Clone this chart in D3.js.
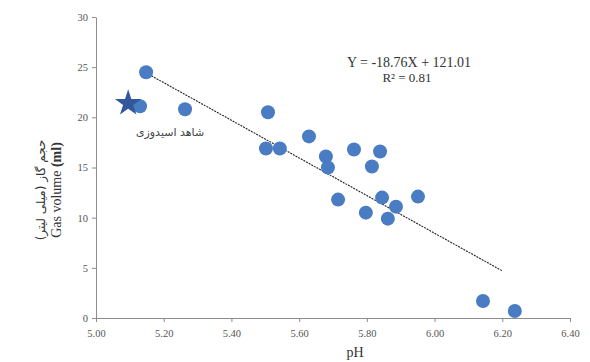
<!DOCTYPE html>
<html>
<head>
    <meta charset="utf-8" />
    <title>Gas volume vs pH</title>
    <style>
        body { margin: 0; background: #fff; }
        text { font-family: "Liberation Serif", serif; }
    </style>
</head>
<body>
<script src="https://d3js.org/d3.v7.min.js"></script>
<script>
    // data
    var phValues  = [5.148, 5.13, 5.263, 5.508, 5.502, 5.543, 5.629, 5.679, 5.685, 5.762,
                     5.839, 5.815, 5.715, 5.797, 5.845, 5.886, 5.862, 5.951, 6.143, 6.237];
    var gasValues = [24.5, 21.1, 20.8, 20.5, 16.9, 16.9, 18.1, 16.1, 15.0, 16.8,
                     16.6, 15.1, 11.8, 10.5, 12.0, 11.1, 9.9, 12.1, 1.7, 0.7];
    var controlPoint = {ph: 5.095, gas: 21.4, label: "شاهد اسیدوزی"};
    var xTicks = [5.0, 5.2, 5.4, 5.6, 5.8, 6.0, 6.2, 6.4];
    var yTicks = [0, 5, 10, 15, 20, 25, 30];
    var slope = -18.76, intercept = 121.01, r2 = 0.81;
    var trendRange = [5.148, 6.2];

    var width = 590, height = 362;
    var svg = d3.select("body").append("svg")
                .attr("width", width)
                .attr("height", height);

    var x = d3.scaleLinear().domain([5.0, 6.4]).range([96, 570]);
    var y = d3.scaleLinear().domain([0, 30]).range([318, 17]);

    var xAxis = svg.append("g")
                   .attr("transform", "translate(0," + y(0) + ")")
                   .call(d3.axisBottom(x).tickValues(xTicks).tickSize(4).tickSizeOuter(0).tickFormat(d3.format(".2f")));
    var yAxis = svg.append("g")
                   .attr("transform", "translate(" + x(5.0) + ",0)")
                   .call(d3.axisLeft(y).tickValues(yTicks).tickSize(4).tickSizeOuter(0));

    [xAxis, yAxis].forEach(function(a) {
        a.attr("font-family", "Liberation Serif");
        a.select(".domain").attr("stroke", "#8c8c8c");
        a.selectAll(".tick line").attr("stroke", "#8c8c8c");
        a.selectAll(".tick text")
         .attr("fill", "#555")
         .style("font-family", "Liberation Serif")
         .style("font-size", "10.5px");
    });
    xAxis.selectAll(".tick text").attr("dy", "1.1em");
    yAxis.selectAll(".tick text").attr("x", -8);

    // trend line
    svg.append("line")
       .attr("x1", x(trendRange[0]))
       .attr("y1", y(slope * trendRange[0] + intercept))
       .attr("x2", x(trendRange[1]))
       .attr("y2", y(slope * trendRange[1] + intercept))
       .attr("stroke", "#222")
       .attr("stroke-width", 1.1)
       .attr("stroke-dasharray", "2,1");

    var pts = phValues.map(function(p, i) { return {ph: p, gas: gasValues[i]}; });

    svg.append("g")
       .attr("fill", "#4a7cc4")
       .selectAll("circle")
       .data(pts)
       .enter().append("circle")
       .attr("cx", d => x(d.ph))
       .attr("cy", d => y(d.gas))
       .attr("r", 7);

    // control star
    svg.append("path")
       .attr("d", d3.symbol().type(d3.symbolStar).size(220)())
       .attr("transform", "translate(" + x(controlPoint.ph) + "," + y(controlPoint.gas) + ")")
       .attr("fill", "#34599a");

    svg.append("text")
       .attr("x", 170)
       .attr("y", 136)
       .attr("text-anchor", "middle")
       .style("font-family", "DejaVu Sans")
       .style("font-size", "11px")
       .attr("fill", "#444")
       .text(controlPoint.label);

    // equation
    svg.append("text")
       .attr("x", 409)
       .attr("y", 67)
       .attr("text-anchor", "middle")
       .style("font-size", "14px")
       .attr("fill", "#333")
       .text("Y = " + slope + "X + " + intercept.toFixed(2));
    svg.append("text")
       .attr("x", 407)
       .attr("y", 82)
       .attr("text-anchor", "middle")
       .style("font-size", "13px")
       .attr("fill", "#333")
       .text("R² = " + r2);

    // axis titles
    svg.append("text")
       .attr("x", 355)
       .attr("y", 357)
       .attr("text-anchor", "middle")
       .style("font-size", "14px")
       .attr("fill", "#333")
       .text("pH");

    var yTitle = svg.append("g")
                    .attr("transform", "translate(0,190) rotate(-90)");
    yTitle.append("text")
          .attr("x", 0)
          .attr("y", 45)
          .attr("text-anchor", "middle")
          .style("font-family", "DejaVu Sans")
          .style("font-size", "12px")
          .attr("fill", "#333")
          .text("حجم گاز (میلی لیتر)");
    var en = yTitle.append("text")
          .attr("x", 0)
          .attr("y", 61)
          .attr("text-anchor", "middle")
          .style("font-size", "14px")
          .attr("fill", "#333");
    en.append("tspan").text("Gas volume ");
    en.append("tspan").attr("font-weight", "bold").text("(ml)");
</script>
</body>
</html>
